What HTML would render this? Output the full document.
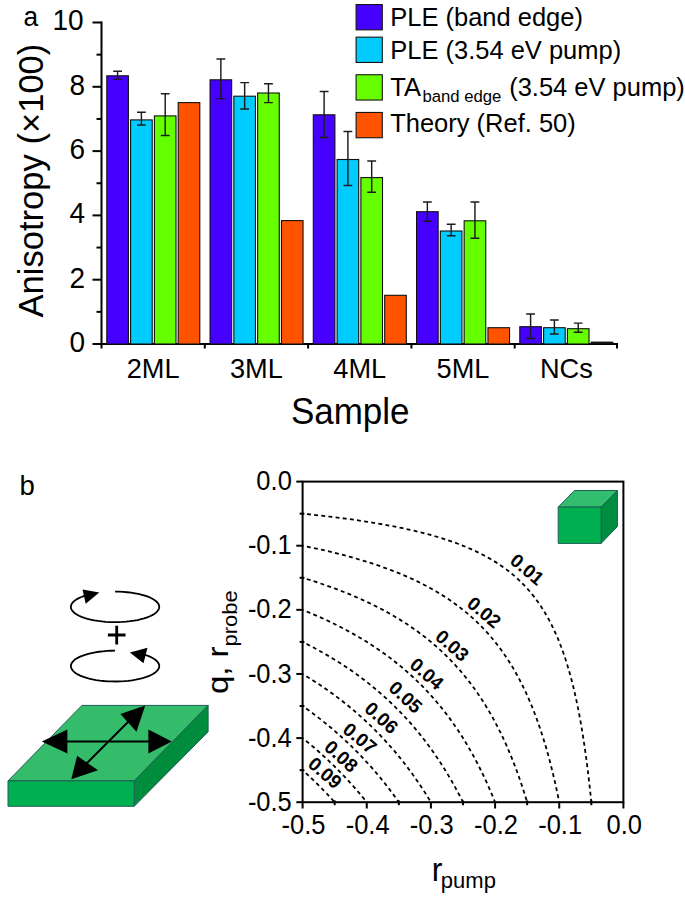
<!DOCTYPE html>
<html><head><meta charset="utf-8"><style>
html,body{margin:0;padding:0;background:#fff;overflow:hidden;width:685px;height:898px;}
svg{display:block;}
text{font-family:"Liberation Sans", sans-serif;fill:#000;}
</style></head><body>
<svg width="685" height="898" viewBox="0 0 685 898">
<rect width="685" height="898" fill="#fff"/>
<text transform="translate(23.60,25.60) scale(1.03,1.05)" font-size="25.5">a</text>
<line x1="101.5" y1="21.5" x2="101.5" y2="345.0" stroke="#000" stroke-width="2"/>
<line x1="92.5" y1="344.00" x2="101.5" y2="344.00" stroke="#000" stroke-width="2"/>
<text transform="translate(85.00,351.90) scale(1.0,1.04)" font-size="28" text-anchor="end">0</text>
<line x1="96.5" y1="311.85" x2="101.5" y2="311.85" stroke="#000" stroke-width="2"/>
<line x1="92.5" y1="279.70" x2="101.5" y2="279.70" stroke="#000" stroke-width="2"/>
<text transform="translate(85.00,287.60) scale(1.0,1.04)" font-size="28" text-anchor="end">2</text>
<line x1="96.5" y1="247.55" x2="101.5" y2="247.55" stroke="#000" stroke-width="2"/>
<line x1="92.5" y1="215.40" x2="101.5" y2="215.40" stroke="#000" stroke-width="2"/>
<text transform="translate(85.00,223.30) scale(1.0,1.04)" font-size="28" text-anchor="end">4</text>
<line x1="96.5" y1="183.25" x2="101.5" y2="183.25" stroke="#000" stroke-width="2"/>
<line x1="92.5" y1="151.10" x2="101.5" y2="151.10" stroke="#000" stroke-width="2"/>
<text transform="translate(85.00,159.00) scale(1.0,1.04)" font-size="28" text-anchor="end">6</text>
<line x1="96.5" y1="118.95" x2="101.5" y2="118.95" stroke="#000" stroke-width="2"/>
<line x1="92.5" y1="86.80" x2="101.5" y2="86.80" stroke="#000" stroke-width="2"/>
<text transform="translate(85.00,94.70) scale(1.0,1.04)" font-size="28" text-anchor="end">8</text>
<line x1="96.5" y1="54.65" x2="101.5" y2="54.65" stroke="#000" stroke-width="2"/>
<line x1="92.5" y1="22.50" x2="101.5" y2="22.50" stroke="#000" stroke-width="2"/>
<text transform="translate(83.60,30.40) scale(1.0,1.04)" font-size="28" text-anchor="end">10</text>
<line x1="100.5" y1="344.0" x2="618.0" y2="344.0" stroke="#000" stroke-width="2"/>
<line x1="101.50" y1="344.0" x2="101.50" y2="348.5" stroke="#000" stroke-width="2"/>
<line x1="204.80" y1="344.0" x2="204.80" y2="348.5" stroke="#000" stroke-width="2"/>
<line x1="308.10" y1="344.0" x2="308.10" y2="348.5" stroke="#000" stroke-width="2"/>
<line x1="411.40" y1="344.0" x2="411.40" y2="348.5" stroke="#000" stroke-width="2"/>
<line x1="514.70" y1="344.0" x2="514.70" y2="348.5" stroke="#000" stroke-width="2"/>
<line x1="617.00" y1="344.0" x2="617.00" y2="348.5" stroke="#000" stroke-width="2"/>
<text transform="translate(153.15,378.20) scale(1.0,1.03)" font-size="27.2" text-anchor="middle">2ML</text>
<text transform="translate(256.45,378.20) scale(1.0,1.03)" font-size="27.2" text-anchor="middle">3ML</text>
<text transform="translate(359.75,378.20) scale(1.0,1.03)" font-size="27.2" text-anchor="middle">4ML</text>
<text transform="translate(463.05,378.20) scale(1.0,1.03)" font-size="27.2" text-anchor="middle">5ML</text>
<text transform="translate(566.35,378.20) scale(1.0,1.03)" font-size="27.2" text-anchor="middle">NCs</text>
<text transform="translate(350.20,423.60) scale(1.0,1.04)" font-size="35" text-anchor="middle">Sample</text>
<text transform="translate(42.70,180.60) rotate(-90)" font-size="34.6" text-anchor="middle">Anisotropy (×100)</text>
<rect x="106.80" y="75.80" width="21.60" height="268.20" fill="#4600FF" stroke="#111" stroke-width="1.1"/>
<rect x="130.60" y="119.90" width="21.60" height="224.10" fill="#00CCFF" stroke="#111" stroke-width="1.1"/>
<rect x="154.40" y="115.90" width="21.60" height="228.10" fill="#66FF00" stroke="#111" stroke-width="1.1"/>
<rect x="178.20" y="102.60" width="21.60" height="241.40" fill="#FF5300" stroke="#111" stroke-width="1.1"/>
<path d="M113.20 71.20H122.00M117.60 71.20V79.30M113.20 79.30H122.00" stroke="#1c1c1c" stroke-width="1.45" fill="none"/>
<path d="M137.00 112.20H145.80M141.40 112.20V125.00M137.00 125.00H145.80" stroke="#1c1c1c" stroke-width="1.45" fill="none"/>
<path d="M160.80 93.70H169.60M165.20 93.70V135.50M160.80 135.50H169.60" stroke="#1c1c1c" stroke-width="1.45" fill="none"/>
<rect x="210.05" y="79.80" width="21.60" height="264.20" fill="#4600FF" stroke="#111" stroke-width="1.1"/>
<rect x="233.85" y="96.20" width="21.60" height="247.80" fill="#00CCFF" stroke="#111" stroke-width="1.1"/>
<rect x="257.65" y="93.00" width="21.60" height="251.00" fill="#66FF00" stroke="#111" stroke-width="1.1"/>
<rect x="281.45" y="220.60" width="21.60" height="123.40" fill="#FF5300" stroke="#111" stroke-width="1.1"/>
<path d="M216.45 59.00H225.25M220.85 59.00V98.60M216.45 98.60H225.25" stroke="#1c1c1c" stroke-width="1.45" fill="none"/>
<path d="M240.25 82.60H249.05M244.65 82.60V109.00M240.25 109.00H249.05" stroke="#1c1c1c" stroke-width="1.45" fill="none"/>
<path d="M264.05 83.70H272.85M268.45 83.70V102.60M264.05 102.60H272.85" stroke="#1c1c1c" stroke-width="1.45" fill="none"/>
<rect x="313.30" y="114.80" width="21.60" height="229.20" fill="#4600FF" stroke="#111" stroke-width="1.1"/>
<rect x="337.10" y="159.50" width="21.60" height="184.50" fill="#00CCFF" stroke="#111" stroke-width="1.1"/>
<rect x="360.90" y="177.60" width="21.60" height="166.40" fill="#66FF00" stroke="#111" stroke-width="1.1"/>
<rect x="384.70" y="295.30" width="21.60" height="48.70" fill="#FF5300" stroke="#111" stroke-width="1.1"/>
<path d="M319.70 91.40H328.50M324.10 91.40V137.40M319.70 137.40H328.50" stroke="#1c1c1c" stroke-width="1.45" fill="none"/>
<path d="M343.50 131.50H352.30M347.90 131.50V185.50M343.50 185.50H352.30" stroke="#1c1c1c" stroke-width="1.45" fill="none"/>
<path d="M367.30 161.00H376.10M371.70 161.00V192.30M367.30 192.30H376.10" stroke="#1c1c1c" stroke-width="1.45" fill="none"/>
<rect x="416.55" y="211.70" width="21.60" height="132.30" fill="#4600FF" stroke="#111" stroke-width="1.1"/>
<rect x="440.35" y="231.00" width="21.60" height="113.00" fill="#00CCFF" stroke="#111" stroke-width="1.1"/>
<rect x="464.15" y="220.80" width="21.60" height="123.20" fill="#66FF00" stroke="#111" stroke-width="1.1"/>
<rect x="487.95" y="327.70" width="21.60" height="16.30" fill="#FF5300" stroke="#111" stroke-width="1.1"/>
<path d="M422.95 201.90H431.75M427.35 201.90V221.30M422.95 221.30H431.75" stroke="#1c1c1c" stroke-width="1.45" fill="none"/>
<path d="M446.75 224.30H455.55M451.15 224.30V235.70M446.75 235.70H455.55" stroke="#1c1c1c" stroke-width="1.45" fill="none"/>
<path d="M470.55 201.90H479.35M474.95 201.90V238.30M470.55 238.30H479.35" stroke="#1c1c1c" stroke-width="1.45" fill="none"/>
<rect x="519.80" y="326.70" width="21.60" height="17.30" fill="#4600FF" stroke="#111" stroke-width="1.1"/>
<rect x="543.60" y="327.70" width="21.60" height="16.30" fill="#00CCFF" stroke="#111" stroke-width="1.1"/>
<rect x="567.40" y="328.70" width="21.60" height="15.30" fill="#66FF00" stroke="#111" stroke-width="1.1"/>
<rect x="590.70" y="341.6" width="22.60" height="2.4" fill="#111"/>
<path d="M526.20 313.90H535.00M530.60 313.90V338.40M526.20 338.40H535.00" stroke="#1c1c1c" stroke-width="1.45" fill="none"/>
<path d="M550.00 320.00H558.80M554.40 320.00V334.00M550.00 334.00H558.80" stroke="#1c1c1c" stroke-width="1.45" fill="none"/>
<path d="M573.80 323.10H582.60M578.20 323.10V332.30M573.80 332.30H582.60" stroke="#1c1c1c" stroke-width="1.45" fill="none"/>
<rect x="356.10" y="4.55" width="26.2" height="25.3" fill="#4600FF" stroke="#141414" stroke-width="1.1"/>
<rect x="356.10" y="37.15" width="26.2" height="25.3" fill="#00CCFF" stroke="#141414" stroke-width="1.1"/>
<rect x="356.10" y="74.75" width="26.2" height="25.3" fill="#66FF00" stroke="#141414" stroke-width="1.1"/>
<rect x="356.10" y="112.45" width="26.2" height="25.3" fill="#FF5300" stroke="#141414" stroke-width="1.1"/>
<text transform="translate(390.20,25.70) scale(1.0,1.03)" font-size="25.5">PLE (band edge)</text>
<text transform="translate(390.20,58.90) scale(1.0,1.03)" font-size="25.5">PLE (3.54 eV pump)</text>
<text transform="translate(390.20,95.50) scale(1.0,1.03)" font-size="25.5">TA<tspan font-size="16.7" dy="6.1" dx="1.5">band edge</tspan><tspan dy="-6.1" dx="0.8"> (3.54 eV pump)</tspan></text>
<text transform="translate(390.20,131.70) scale(1.0,1.03)" font-size="25.5">Theory (Ref. 50)</text>
<text transform="translate(19.60,494.60) scale(1.04,1.03)" font-size="26.5">b</text>
<rect x="302.6" y="481.6" width="320.80" height="320.60" fill="none" stroke="#000" stroke-width="2"/>
<line x1="296.30" y1="481.60" x2="302.6" y2="481.60" stroke="#000" stroke-width="2"/>
<line x1="623.40" y1="802.2" x2="623.40" y2="808.50" stroke="#000" stroke-width="2"/>
<text transform="translate(291.80,490.20) scale(1.0,1.07)" font-size="25.5" text-anchor="end">0.0</text>
<text transform="translate(624.30,834.00) scale(1.0,1.06)" font-size="25.5" text-anchor="middle">0.0</text>
<line x1="299.60" y1="513.66" x2="304.40000000000003" y2="513.66" stroke="#000" stroke-width="2"/>
<line x1="591.32" y1="800.4000000000001" x2="591.32" y2="805.20" stroke="#000" stroke-width="2"/>
<line x1="296.30" y1="545.72" x2="302.6" y2="545.72" stroke="#000" stroke-width="2"/>
<line x1="559.24" y1="802.2" x2="559.24" y2="808.50" stroke="#000" stroke-width="2"/>
<text transform="translate(291.80,554.32) scale(1.0,1.07)" font-size="25.5" text-anchor="end">-0.1</text>
<text transform="translate(560.14,834.00) scale(1.0,1.06)" font-size="25.5" text-anchor="middle">-0.1</text>
<line x1="299.60" y1="577.78" x2="304.40000000000003" y2="577.78" stroke="#000" stroke-width="2"/>
<line x1="527.16" y1="800.4000000000001" x2="527.16" y2="805.20" stroke="#000" stroke-width="2"/>
<line x1="296.30" y1="609.84" x2="302.6" y2="609.84" stroke="#000" stroke-width="2"/>
<line x1="495.08" y1="802.2" x2="495.08" y2="808.50" stroke="#000" stroke-width="2"/>
<text transform="translate(291.80,618.44) scale(1.0,1.07)" font-size="25.5" text-anchor="end">-0.2</text>
<text transform="translate(495.98,834.00) scale(1.0,1.06)" font-size="25.5" text-anchor="middle">-0.2</text>
<line x1="299.60" y1="641.90" x2="304.40000000000003" y2="641.90" stroke="#000" stroke-width="2"/>
<line x1="463.00" y1="800.4000000000001" x2="463.00" y2="805.20" stroke="#000" stroke-width="2"/>
<line x1="296.30" y1="673.96" x2="302.6" y2="673.96" stroke="#000" stroke-width="2"/>
<line x1="430.92" y1="802.2" x2="430.92" y2="808.50" stroke="#000" stroke-width="2"/>
<text transform="translate(291.80,682.56) scale(1.0,1.07)" font-size="25.5" text-anchor="end">-0.3</text>
<text transform="translate(431.82,834.00) scale(1.0,1.06)" font-size="25.5" text-anchor="middle">-0.3</text>
<line x1="299.60" y1="706.02" x2="304.40000000000003" y2="706.02" stroke="#000" stroke-width="2"/>
<line x1="398.84" y1="800.4000000000001" x2="398.84" y2="805.20" stroke="#000" stroke-width="2"/>
<line x1="296.30" y1="738.08" x2="302.6" y2="738.08" stroke="#000" stroke-width="2"/>
<line x1="366.76" y1="802.2" x2="366.76" y2="808.50" stroke="#000" stroke-width="2"/>
<text transform="translate(291.80,746.68) scale(1.0,1.07)" font-size="25.5" text-anchor="end">-0.4</text>
<text transform="translate(367.66,834.00) scale(1.0,1.06)" font-size="25.5" text-anchor="middle">-0.4</text>
<line x1="299.60" y1="770.14" x2="304.40000000000003" y2="770.14" stroke="#000" stroke-width="2"/>
<line x1="334.68" y1="800.4000000000001" x2="334.68" y2="805.20" stroke="#000" stroke-width="2"/>
<line x1="296.30" y1="802.20" x2="302.6" y2="802.20" stroke="#000" stroke-width="2"/>
<line x1="302.60" y1="802.2" x2="302.60" y2="808.50" stroke="#000" stroke-width="2"/>
<text transform="translate(291.80,810.80) scale(1.0,1.07)" font-size="25.5" text-anchor="end">-0.5</text>
<text transform="translate(303.50,834.00) scale(1.0,1.06)" font-size="25.5" text-anchor="middle">-0.5</text>
<text transform="translate(431.70,880.90) scale(1.0,1.02)" font-size="32">r<tspan font-size="22" dy="6.5" dx="-1.5">pump</tspan></text>
<text transform="translate(228.20,694.10) rotate(-90) scale(1.1,1.0)" font-size="30">q, r<tspan font-size="20" dy="8.6">probe</tspan></text>
<path d="M302.60 513.66 L311.70 514.60 L320.55 515.56 L329.14 516.55 L337.49 517.57 L345.60 518.62 L353.48 519.70 L361.14 520.82 L368.58 521.96 L375.81 523.14 L382.83 524.35 L389.66 525.60 L396.29 526.89 L402.73 528.21 L409.00 529.57 L415.08 530.97 L420.99 532.41 L426.73 533.90 L432.31 535.42 L437.73 536.99 L443.00 538.61 L448.12 540.28 L453.09 541.99 L457.92 543.75 L462.62 545.57 L467.18 547.44 L471.61 549.36 L475.92 551.34 L480.10 553.37 L484.17 555.47 L488.12 557.63 L491.96 559.85 L495.69 562.13 L499.31 564.48 L502.83 566.90 L506.25 569.39 L509.58 571.96 L512.81 574.60 L515.94 577.31 L518.99 580.11 L521.95 582.98 L524.83 585.94 L527.63 588.99 L530.35 592.13 L532.99 595.35 L535.55 598.67 L538.04 602.09 L540.47 605.61 L542.82 609.23 L545.10 612.96 L547.33 616.80 L549.48 620.74 L551.58 624.81 L553.62 628.99 L555.60 633.29 L557.52 637.72 L559.39 642.28 L561.21 646.97 L562.97 651.80 L564.69 656.77 L566.35 661.89 L567.97 667.15 L569.54 672.57 L571.07 678.15 L572.56 683.88 L574.00 689.79 L575.40 695.87 L576.76 702.13 L578.09 708.57 L579.37 715.19 L580.62 722.02 L581.83 729.04 L583.01 736.26 L584.16 743.70 L585.27 751.35 L586.35 759.23 L587.41 767.34 L588.43 775.68 L589.42 784.27 L590.38 793.10 L591.32 802.20" fill="none" stroke="#000" stroke-width="1.8" stroke-dasharray="3.9 3.3" stroke-dashoffset="2.8"/>
<path d="M302.60 545.72 L308.99 547.02 L315.25 548.35 L321.39 549.71 L327.40 551.09 L333.30 552.51 L339.08 553.95 L344.74 555.42 L350.29 556.92 L355.73 558.45 L361.06 560.01 L366.29 561.60 L371.41 563.23 L376.43 564.89 L381.34 566.58 L386.17 568.31 L390.89 570.07 L395.52 571.87 L400.06 573.70 L404.51 575.57 L408.87 577.48 L413.14 579.43 L417.33 581.42 L421.43 583.45 L425.46 585.52 L429.40 587.63 L433.26 589.78 L437.05 591.98 L440.76 594.22 L444.40 596.51 L447.96 598.85 L451.46 601.23 L454.88 603.66 L458.24 606.14 L461.53 608.67 L464.75 611.26 L467.91 613.89 L471.01 616.58 L474.04 619.32 L477.02 622.12 L479.93 624.98 L482.79 627.89 L485.59 630.86 L488.34 633.90 L491.03 636.99 L493.66 640.15 L496.25 643.37 L498.78 646.66 L501.26 650.01 L503.69 653.44 L506.08 656.93 L508.42 660.49 L510.71 664.13 L512.95 667.83 L515.15 671.62 L517.31 675.48 L519.42 679.42 L521.49 683.44 L523.52 687.54 L525.51 691.73 L527.46 696.00 L529.37 700.36 L531.24 704.80 L533.08 709.34 L534.88 713.96 L536.64 718.69 L538.37 723.50 L540.06 728.42 L541.72 733.44 L543.35 738.55 L544.94 743.78 L546.50 749.10 L548.04 754.54 L549.54 760.09 L551.01 765.75 L552.45 771.52 L553.86 777.41 L555.25 783.42 L556.61 789.56 L557.94 795.81 L559.24 802.20" fill="none" stroke="#000" stroke-width="1.8" stroke-dasharray="3.9 3.3" stroke-dashoffset="2.8"/>
<path d="M302.60 577.78 L307.39 579.24 L312.11 580.72 L316.76 582.22 L321.34 583.75 L325.85 585.30 L330.30 586.87 L334.68 588.47 L338.99 590.09 L343.24 591.73 L347.42 593.40 L351.54 595.10 L355.60 596.82 L359.60 598.56 L363.55 600.34 L367.43 602.14 L371.25 603.97 L375.02 605.82 L378.73 607.71 L382.38 609.62 L385.98 611.56 L389.53 613.53 L393.02 615.53 L396.46 617.56 L399.85 619.62 L403.19 621.71 L406.48 623.84 L409.72 626.00 L412.91 628.19 L416.06 630.41 L419.15 632.67 L422.20 634.96 L425.21 637.28 L428.17 639.64 L431.09 642.04 L433.96 644.47 L436.79 646.94 L439.58 649.45 L442.32 651.99 L445.03 654.58 L447.69 657.20 L450.32 659.86 L452.90 662.57 L455.45 665.31 L457.96 668.10 L460.43 670.92 L462.86 673.79 L465.26 676.71 L467.62 679.67 L469.95 682.67 L472.24 685.72 L474.50 688.81 L476.72 691.96 L478.91 695.15 L481.07 698.38 L483.20 701.67 L485.29 705.01 L487.35 708.40 L489.39 711.84 L491.39 715.33 L493.36 718.87 L495.30 722.47 L497.22 726.12 L499.10 729.83 L500.96 733.59 L502.79 737.41 L504.59 741.29 L506.36 745.23 L508.11 749.23 L509.83 753.29 L511.53 757.41 L513.20 761.59 L514.85 765.83 L516.47 770.14 L518.07 774.52 L519.64 778.96 L521.19 783.47 L522.72 788.05 L524.22 792.69 L525.70 797.41 L527.16 802.20" fill="none" stroke="#000" stroke-width="1.8" stroke-dasharray="3.9 3.3" stroke-dashoffset="2.8"/>
<path d="M302.60 609.84 L306.25 611.32 L309.87 612.81 L313.44 614.32 L316.97 615.85 L320.46 617.40 L323.91 618.96 L327.32 620.55 L330.69 622.15 L334.02 623.76 L337.32 625.40 L340.58 627.06 L343.80 628.73 L346.98 630.43 L350.13 632.14 L353.24 633.88 L356.32 635.63 L359.36 637.41 L362.37 639.20 L365.34 641.02 L368.28 642.85 L371.18 644.71 L374.05 646.59 L376.89 648.49 L379.70 650.41 L382.48 652.36 L385.22 654.32 L387.93 656.31 L390.61 658.33 L393.27 660.36 L395.89 662.42 L398.48 664.50 L401.04 666.61 L403.57 668.74 L406.07 670.90 L408.55 673.08 L411.00 675.29 L413.42 677.52 L415.81 679.77 L418.17 682.06 L420.51 684.37 L422.82 686.70 L425.10 689.06 L427.36 691.45 L429.59 693.87 L431.80 696.32 L433.98 698.79 L436.14 701.29 L438.27 703.82 L440.38 706.38 L442.47 708.97 L444.53 711.59 L446.56 714.24 L448.58 716.92 L450.57 719.63 L452.54 722.37 L454.48 725.15 L456.41 727.95 L458.31 730.79 L460.19 733.66 L462.05 736.56 L463.88 739.50 L465.70 742.47 L467.50 745.48 L469.27 748.52 L471.03 751.59 L472.76 754.70 L474.48 757.85 L476.17 761.03 L477.85 764.25 L479.51 767.50 L481.15 770.80 L482.77 774.13 L484.37 777.50 L485.95 780.91 L487.52 784.36 L489.06 787.84 L490.59 791.37 L492.11 794.94 L493.60 798.55 L495.08 802.20" fill="none" stroke="#000" stroke-width="1.8" stroke-dasharray="3.9 3.3" stroke-dashoffset="2.8"/>
<path d="M302.60 641.90 L305.37 643.29 L308.11 644.70 L310.83 646.12 L313.53 647.55 L316.20 649.00 L318.85 650.45 L321.48 651.92 L324.08 653.41 L326.67 654.90 L329.23 656.41 L331.76 657.93 L334.28 659.46 L336.77 661.01 L339.25 662.57 L341.70 664.15 L344.13 665.74 L346.54 667.34 L348.93 668.95 L351.29 670.59 L353.64 672.23 L355.97 673.89 L358.27 675.56 L360.56 677.25 L362.83 678.95 L365.08 680.67 L367.31 682.40 L369.52 684.15 L371.71 685.91 L373.88 687.69 L376.03 689.48 L378.16 691.29 L380.28 693.12 L382.38 694.96 L384.46 696.81 L386.52 698.69 L388.56 700.58 L390.59 702.48 L392.60 704.40 L394.59 706.34 L396.56 708.30 L398.52 710.27 L400.46 712.26 L402.38 714.27 L404.29 716.29 L406.18 718.34 L408.05 720.40 L409.91 722.47 L411.75 724.57 L413.58 726.68 L415.39 728.82 L417.18 730.97 L418.96 733.14 L420.72 735.33 L422.47 737.53 L424.21 739.76 L425.92 742.01 L427.63 744.27 L429.32 746.56 L430.99 748.87 L432.65 751.19 L434.30 753.54 L435.93 755.90 L437.55 758.29 L439.15 760.70 L440.74 763.13 L442.31 765.58 L443.88 768.05 L445.43 770.54 L446.96 773.06 L448.48 775.59 L449.99 778.15 L451.49 780.73 L452.97 783.33 L454.44 785.96 L455.90 788.61 L457.34 791.28 L458.78 793.97 L460.20 796.69 L461.60 799.43 L463.00 802.20" fill="none" stroke="#000" stroke-width="1.8" stroke-dasharray="3.9 3.3" stroke-dashoffset="2.8"/>
<path d="M302.60 673.96 L304.64 675.19 L306.67 676.43 L308.69 677.68 L310.69 678.94 L312.68 680.20 L314.66 681.47 L316.62 682.75 L318.58 684.04 L320.52 685.34 L322.44 686.64 L324.36 687.96 L326.26 689.28 L328.15 690.61 L330.03 691.95 L331.90 693.30 L333.76 694.65 L335.60 696.02 L337.43 697.39 L339.25 698.77 L341.06 700.16 L342.86 701.56 L344.64 702.97 L346.42 704.39 L348.18 705.82 L349.93 707.25 L351.67 708.70 L353.40 710.15 L355.12 711.62 L356.83 713.09 L358.52 714.57 L360.21 716.07 L361.89 717.57 L363.55 719.08 L365.20 720.60 L366.85 722.13 L368.48 723.67 L370.10 725.22 L371.72 726.78 L373.32 728.36 L374.91 729.94 L376.49 731.53 L378.06 733.13 L379.62 734.74 L381.18 736.36 L382.72 737.99 L384.25 739.63 L385.77 741.29 L387.28 742.95 L388.79 744.63 L390.28 746.31 L391.76 748.01 L393.24 749.71 L394.70 751.43 L396.16 753.16 L397.61 754.90 L399.04 756.65 L400.47 758.41 L401.89 760.18 L403.30 761.97 L404.70 763.76 L406.09 765.57 L407.48 767.39 L408.85 769.22 L410.22 771.06 L411.57 772.92 L412.92 774.78 L414.26 776.66 L415.59 778.55 L416.91 780.45 L418.23 782.37 L419.53 784.30 L420.83 786.23 L422.12 788.19 L423.40 790.15 L424.68 792.13 L425.94 794.12 L427.20 796.12 L428.45 798.13 L429.69 800.16 L430.92 802.20" fill="none" stroke="#000" stroke-width="1.8" stroke-dasharray="3.9 3.3" stroke-dashoffset="2.8"/>
<path d="M302.60 706.02 L304.03 707.02 L305.45 708.03 L306.86 709.04 L308.27 710.06 L309.67 711.08 L311.07 712.10 L312.46 713.13 L313.84 714.17 L315.22 715.21 L316.59 716.25 L317.95 717.30 L319.31 718.35 L320.66 719.41 L322.01 720.47 L323.35 721.54 L324.69 722.61 L326.02 723.69 L327.34 724.77 L328.66 725.86 L329.97 726.95 L331.27 728.05 L332.57 729.15 L333.87 730.25 L335.15 731.37 L336.44 732.48 L337.71 733.60 L338.98 734.73 L340.25 735.86 L341.51 737.00 L342.76 738.14 L344.01 739.28 L345.25 740.43 L346.49 741.59 L347.72 742.75 L348.95 743.92 L350.17 745.09 L351.39 746.27 L352.60 747.45 L353.80 748.64 L355.00 749.83 L356.19 751.03 L357.38 752.24 L358.57 753.45 L359.74 754.66 L360.92 755.88 L362.08 757.11 L363.25 758.34 L364.40 759.57 L365.56 760.82 L366.70 762.06 L367.85 763.32 L368.98 764.57 L370.11 765.84 L371.24 767.11 L372.36 768.39 L373.48 769.67 L374.59 770.95 L375.70 772.25 L376.80 773.55 L377.90 774.85 L378.99 776.16 L380.08 777.48 L381.16 778.80 L382.24 780.13 L383.31 781.46 L384.38 782.80 L385.44 784.15 L386.50 785.50 L387.55 786.86 L388.60 788.22 L389.65 789.59 L390.69 790.97 L391.72 792.35 L392.75 793.74 L393.78 795.13 L394.80 796.53 L395.82 797.94 L396.83 799.35 L397.84 800.77 L398.84 802.20" fill="none" stroke="#000" stroke-width="1.8" stroke-dasharray="3.9 3.3" stroke-dashoffset="2.8"/>
<path d="M302.60 738.08 L303.49 738.80 L304.38 739.51 L305.27 740.24 L306.16 740.96 L307.04 741.68 L307.92 742.41 L308.80 743.14 L309.68 743.87 L310.55 744.60 L311.42 745.33 L312.29 746.07 L313.16 746.81 L314.02 747.55 L314.89 748.29 L315.75 749.04 L316.60 749.79 L317.46 750.53 L318.31 751.29 L319.16 752.04 L320.01 752.79 L320.85 753.55 L321.69 754.31 L322.53 755.07 L323.37 755.84 L324.21 756.60 L325.04 757.37 L325.87 758.14 L326.70 758.91 L327.53 759.69 L328.35 760.47 L329.17 761.24 L329.99 762.03 L330.81 762.81 L331.63 763.59 L332.44 764.38 L333.25 765.17 L334.06 765.96 L334.86 766.76 L335.67 767.55 L336.47 768.35 L337.27 769.15 L338.06 769.96 L338.86 770.76 L339.65 771.57 L340.44 772.38 L341.23 773.19 L342.02 774.01 L342.80 774.82 L343.58 775.64 L344.36 776.46 L345.14 777.29 L345.91 778.11 L346.69 778.94 L347.46 779.77 L348.23 780.61 L348.99 781.44 L349.76 782.28 L350.52 783.12 L351.28 783.96 L352.04 784.80 L352.79 785.65 L353.55 786.50 L354.30 787.35 L355.05 788.21 L355.79 789.06 L356.54 789.92 L357.28 790.78 L358.02 791.65 L358.76 792.51 L359.50 793.38 L360.24 794.25 L360.97 795.13 L361.70 796.00 L362.43 796.88 L363.16 797.76 L363.88 798.64 L364.60 799.53 L365.32 800.42 L366.04 801.31 L366.76 802.20" fill="none" stroke="#000" stroke-width="1.8" stroke-dasharray="3.9 3.3" stroke-dashoffset="2.8"/>
<path d="M302.60 770.14 L303.02 770.52 L303.44 770.90 L303.86 771.28 L304.29 771.66 L304.71 772.05 L305.12 772.43 L305.54 772.81 L305.96 773.20 L306.38 773.58 L306.80 773.97 L307.21 774.35 L307.63 774.74 L308.05 775.12 L308.46 775.51 L308.88 775.90 L309.29 776.28 L309.70 776.67 L310.12 777.06 L310.53 777.45 L310.94 777.84 L311.35 778.23 L311.76 778.62 L312.17 779.01 L312.58 779.41 L312.99 779.80 L313.40 780.19 L313.81 780.58 L314.21 780.98 L314.62 781.37 L315.03 781.77 L315.43 782.16 L315.84 782.56 L316.24 782.96 L316.65 783.35 L317.05 783.75 L317.45 784.15 L317.86 784.55 L318.26 784.95 L318.66 785.35 L319.06 785.75 L319.46 786.15 L319.86 786.55 L320.26 786.95 L320.66 787.35 L321.06 787.76 L321.46 788.16 L321.86 788.56 L322.25 788.97 L322.65 789.37 L323.04 789.78 L323.44 790.19 L323.83 790.59 L324.23 791.00 L324.62 791.41 L325.02 791.82 L325.41 792.22 L325.80 792.63 L326.19 793.04 L326.58 793.45 L326.97 793.87 L327.36 794.28 L327.75 794.69 L328.14 795.10 L328.53 795.51 L328.92 795.93 L329.31 796.34 L329.69 796.76 L330.08 797.17 L330.47 797.59 L330.85 798.01 L331.24 798.42 L331.62 798.84 L332.01 799.26 L332.39 799.68 L332.77 800.10 L333.16 800.52 L333.54 800.94 L333.92 801.36 L334.30 801.78 L334.68 802.20" fill="none" stroke="#000" stroke-width="1.8" stroke-dasharray="3.9 3.3" stroke-dashoffset="2.8"/>
<text transform="translate(527.20,569.30) rotate(40)" font-size="19" text-anchor="middle" font-weight="bold" dy="6.6">0.01</text>
<text transform="translate(484.20,612.30) rotate(40)" font-size="19" text-anchor="middle" font-weight="bold" dy="6.6">0.02</text>
<text transform="translate(452.20,645.60) rotate(41)" font-size="19" text-anchor="middle" font-weight="bold" dy="6.6">0.03</text>
<text transform="translate(426.80,673.70) rotate(41)" font-size="19" text-anchor="middle" font-weight="bold" dy="6.6">0.04</text>
<text transform="translate(405.60,697.10) rotate(43)" font-size="19" text-anchor="middle" font-weight="bold" dy="6.6">0.05</text>
<text transform="translate(381.50,717.70) rotate(42)" font-size="19" text-anchor="middle" font-weight="bold" dy="6.6">0.06</text>
<text transform="translate(360.00,738.20) rotate(40)" font-size="19" text-anchor="middle" font-weight="bold" dy="6.6">0.07</text>
<text transform="translate(341.20,756.20) rotate(42)" font-size="19" text-anchor="middle" font-weight="bold" dy="6.6">0.08</text>
<text transform="translate(325.00,772.90) rotate(41)" font-size="19" text-anchor="middle" font-weight="bold" dy="6.6">0.09</text>
<g stroke="#1E5F55" stroke-width="1" stroke-linejoin="round"><polygon points="558.2,507.1 574.5,490.5 617.4,490.5 601.1,507.1" fill="#33BE6F"/><polygon points="601.1,507.1 617.4,490.5 617.4,526.5 601.1,543.4" fill="#008D40"/><polygon points="558.2,507.1 601.1,507.1 601.1,543.4 558.2,543.4" fill="#00B050"/></g>
<g stroke="#1E5F55" stroke-width="1" stroke-linejoin="round"><polygon points="8,780.9 81.9,705.4 208.1,705.4 134.2,780.9" fill="#34BC6A"/><polygon points="134.2,780.9 208.1,705.4 208.1,731.8 134.2,806.3" fill="#008C3D"/><polygon points="8,780.9 134.2,780.9 134.2,806.3 8,806.3" fill="#00AF50"/></g>
<g fill="#000" stroke="none"><line x1="60" y1="741.4" x2="155" y2="741.4" stroke="#000" stroke-width="2"/><polygon points="41.8,741.4 67.4,729.6 67.4,753.4"/><polygon points="171.8,741.4 148.4,729.6 148.4,753.4"/><line x1="85" y1="765" x2="132" y2="718" stroke="#000" stroke-width="2"/><polygon points="145.2,705.4 120.4,714.1 136.5,731.8"/><polygon points="71.3,779.3 77.1,755.8 98,770.3"/></g>
<path d="M115.05 591.65 L119.16 591.72 L123.23 591.91 L127.23 592.24 L131.13 592.69 L134.89 593.27 L138.47 593.97 L141.86 594.77 L145.01 595.69 L147.90 596.70 L150.50 597.79 L152.80 598.97 L154.78 600.21 L156.41 601.52 L157.68 602.87 L158.58 604.25 L159.10 605.66 L159.25 607.08 L159.01 608.49 L158.39 609.90 L157.39 611.27 L156.03 612.61 L154.32 613.90 L152.26 615.13 L149.88 616.29 L147.20 617.37 L144.24 618.35 L141.03 619.24 L137.59 620.02 L133.96 620.68 L130.17 621.23 L126.24 621.65 L122.22 621.95 L118.13 622.11 L114.02 622.15 L109.92 622.05 L105.86 621.82 L101.88 621.46 L98.02 620.97 L94.30 620.36 L90.76 619.64 L87.43 618.81 L84.35 617.87 L81.52 616.84 L78.99 615.72 L76.77 614.52 L74.88 613.26 L73.34 611.95 L72.16 610.59 L71.35 609.20 L70.92 607.79 L70.88 606.37 L71.21 604.95 L71.93 603.56 L73.01 602.19 L74.46 600.86 L76.27 599.58 L78.41 598.37 L80.86 597.23 L83.61 596.18 L86.64 595.22" fill="none" stroke="#000" stroke-width="1.8"/>
<polygon points="99.3,592.5 82.5,589.6 85.7,603.8" fill="#000"/>
<path d="M115.05 650.70 L110.94 650.77 L106.87 650.97 L102.87 651.30 L98.97 651.76 L95.21 652.34 L91.63 653.04 L88.24 653.86 L85.09 654.78 L82.20 655.80 L79.60 656.90 L77.30 658.09 L75.32 659.35 L73.69 660.66 L72.42 662.03 L71.52 663.43 L71.00 664.85 L70.85 666.28 L71.09 667.71 L71.71 669.13 L72.71 670.52 L74.07 671.87 L75.78 673.17 L77.84 674.41 L80.22 675.58 L82.90 676.67 L85.86 677.66 L89.07 678.56 L92.51 679.35 L96.14 680.02 L99.93 680.57 L103.86 681.00 L107.88 681.30 L111.97 681.46 L116.08 681.50 L120.18 681.40 L124.24 681.16 L128.22 680.80 L132.08 680.31 L135.80 679.70 L139.34 678.97 L142.67 678.12 L145.75 677.18 L148.58 676.14 L151.11 675.01 L153.33 673.80 L155.22 672.53 L156.76 671.20 L157.94 669.83 L158.75 668.42 L159.18 667.00 L159.22 665.56 L158.89 664.13 L158.17 662.72 L157.09 661.34 L155.64 660.00 L153.83 658.71 L151.69 657.49 L149.24 656.34 L146.49 655.27 L143.46 654.30" fill="none" stroke="#000" stroke-width="1.8"/>
<polygon points="129.9,652.6 147.5,647.8 143.5,663.2" fill="#000"/>
<path d="M107.9 635H125.5M116.7 625.8V644.6" stroke="#000" stroke-width="2.8"/>
</svg>
</body></html>
